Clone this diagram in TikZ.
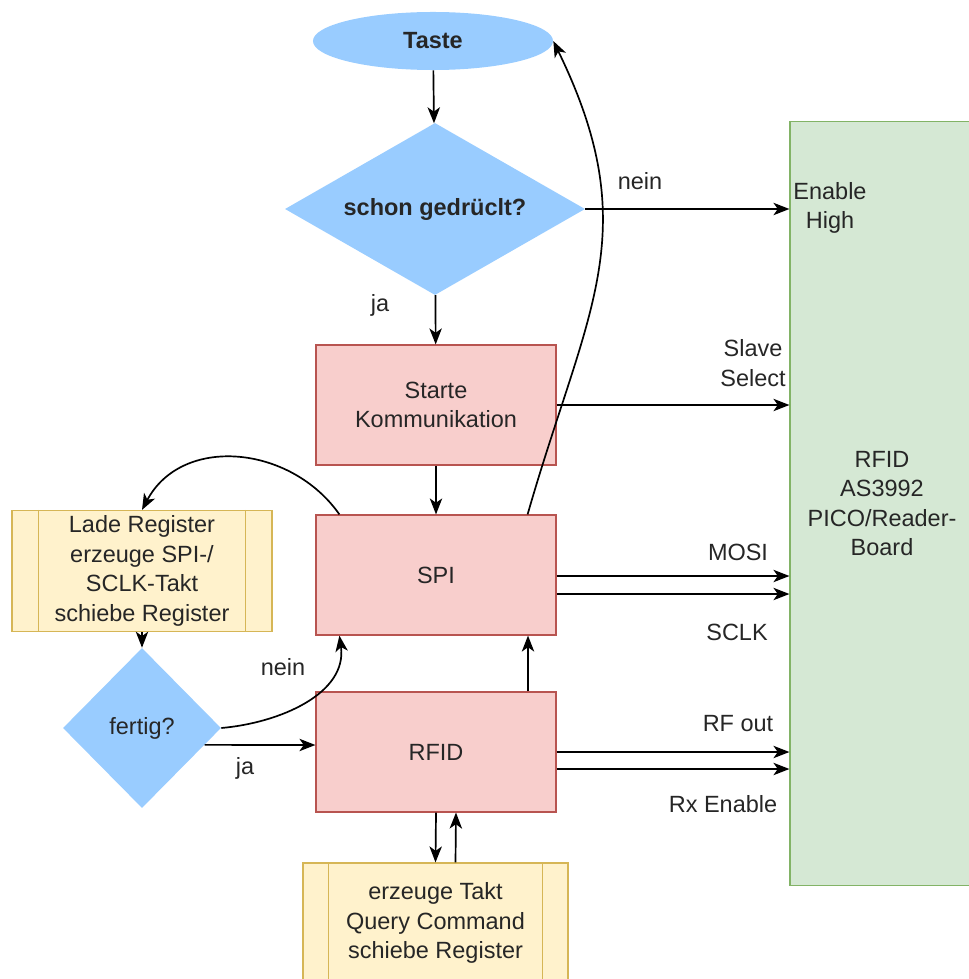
\documentclass[tikz,border=0pt]{standalone}
\usepackage{fontspec}
\setmainfont{Liberation Sans}
\usetikzlibrary{shapes.geometric,arrows.meta,calc}
\definecolor{flowblue}{HTML}{99CCFF}
\definecolor{procfill}{HTML}{F8CECC}
\definecolor{procline}{HTML}{B85450}
\definecolor{subfill}{HTML}{FFF2CC}
\definecolor{subline}{HTML}{D6B656}
\definecolor{boardfill}{HTML}{D5E8D4}
\definecolor{boardline}{HTML}{82B366}
\begin{document}
\begin{tikzpicture}[x=0.025cm,y=-0.025cm,
    every node/.style={font=\fontsize{16.7}{21}\selectfont,text=black!85},
    arr/.style={line width=1.2pt,-{Stealth[length=4mm,width=3.1mm,inset=1.1mm]}},
    decision/.style={diamond,fill=flowblue,inner sep=0pt},
    proc/.style={rectangle,fill=procfill,draw=procline,line width=0.8pt,minimum width=6cm,minimum height=3cm},
    subproc/.style={rectangle,fill=subfill,draw=subline,line width=0.8pt,align=center,inner sep=0pt},
    lbl/.style={align=center,inner sep=0pt}]
    \useasboundingbox (0,0) rectangle (968,979);

    % RFID reader board
    \node[rectangle,fill=boardfill,draw=boardline,line width=0.8pt,minimum width=4.6cm,minimum height=19.075cm,align=center] (board) at (882,503.5) {RFID\\AS3992\\PICO/Reader-\\Board};

    % Flow chart
    \node[ellipse,fill=flowblue,inner sep=0pt,minimum width=6cm,minimum height=1.45cm,font=\fontsize{16.7}{21}\selectfont\bfseries] (taste) at (433,41) {Taste};
    \node[decision,shape aspect=1.74,minimum width=7.5cm,minimum height=4.3cm,font=\fontsize{16.7}{21}\selectfont\bfseries] (schon) at (435,209) {schon gedrüclt?};
    \node[proc,align=center] (starte) at (436,405) {Starte\\Kommunikation};
    \node[proc] (spi) at (436,575) {SPI};
    \node[proc] (rfid) at (436,752) {RFID};
    \node[subproc,minimum width=6.5cm,minimum height=3.025cm] (lade) at (142,571) {Lade Register\\erzeuge SPI-/\\SCLK-Takt\\schiebe Register};
    \node[decision,minimum width=3.95cm,minimum height=4cm] (fertig) at (142,728) {fertig?};
    \node[subproc,minimum width=6.625cm,minimum height=3cm] (takt) at (435.5,923) {erzeuge Takt\\Query Command\\schiebe Register};

    % side bars of the sub process boxes
    \foreach \n/\d in {lade/27,takt/26} {
        \draw[subline,line width=0.8pt] ($(\n.north west)+(\d,0)$) -- ($(\n.south west)+(\d,0)$);
        \draw[subline,line width=0.8pt] ($(\n.north east)+(-\d,0)$) -- ($(\n.south east)+(-\d,0)$);
    }

    % Main flow
    \draw[arr] (taste) -- (schon);
    \draw[arr] (schon) -- (starte);
    \draw[arr] (starte) -- (spi);
    \draw[arr] (rfid.north -| 528,0) -- (spi.south -| 528,0);
    \draw[arr] (rfid.south) -- (takt.north);
    \draw[arr] ($(takt.north)+(20,0)$) -- ($(rfid.south)+(20,0)$);
    \draw[arr] (lade) -- (fertig);

    % Loops
    \draw[arr] ($(spi.north east)+(-29,0)$) to[out=74,in=-64,looseness=1.15] (taste.east);
    \draw[arr] ($(spi.north west)+(24,0)$) to[out=125,in=62,looseness=1.1] (lade.north);
    \draw[arr] (fertig.east) to[out=5,in=-82] ($(spi.south west)+(24,0)$);
    \draw[arr] ($(fertig.east)!0.21!(fertig.south)$) -- ($(rfid.west)+(0,-7)$);

    % Signals to the board
    \draw[arr] (schon.east) -- (schon.east -| board.west);
    \draw[arr] (starte.east) -- (starte.east -| board.west);
    \foreach \sy in {576,594} {
        \draw[arr] (spi.east |- 0,\sy) -- (board.west |- 0,\sy);
    }
    \foreach \ry in {752,769} {
        \draw[arr] (rfid.east |- 0,\ry) -- (board.west |- 0,\ry);
    }

    % Labels
    \node[lbl] (ja1) at (380,305) {ja};
    \node[lbl] (nein1) at (640,181) {nein};
    \node[lbl] (enable) at (830,208) {Enable\\High};
    \node[lbl] (slave) at (753,363) {Slave\\Select};
    \node[lbl] (mosi) at (738,552) {MOSI};
    \node[lbl] (sclk) at (737,632) {SCLK};
    \node[lbl] (rfout) at (738,724) {RF out};
    \node[lbl] (rxen) at (723,804) {Rx Enable};
    \node[lbl] (nein2) at (283,667) {nein};
    \node[lbl] (ja2) at (245,768) {ja};

\end{tikzpicture}
\end{document}
